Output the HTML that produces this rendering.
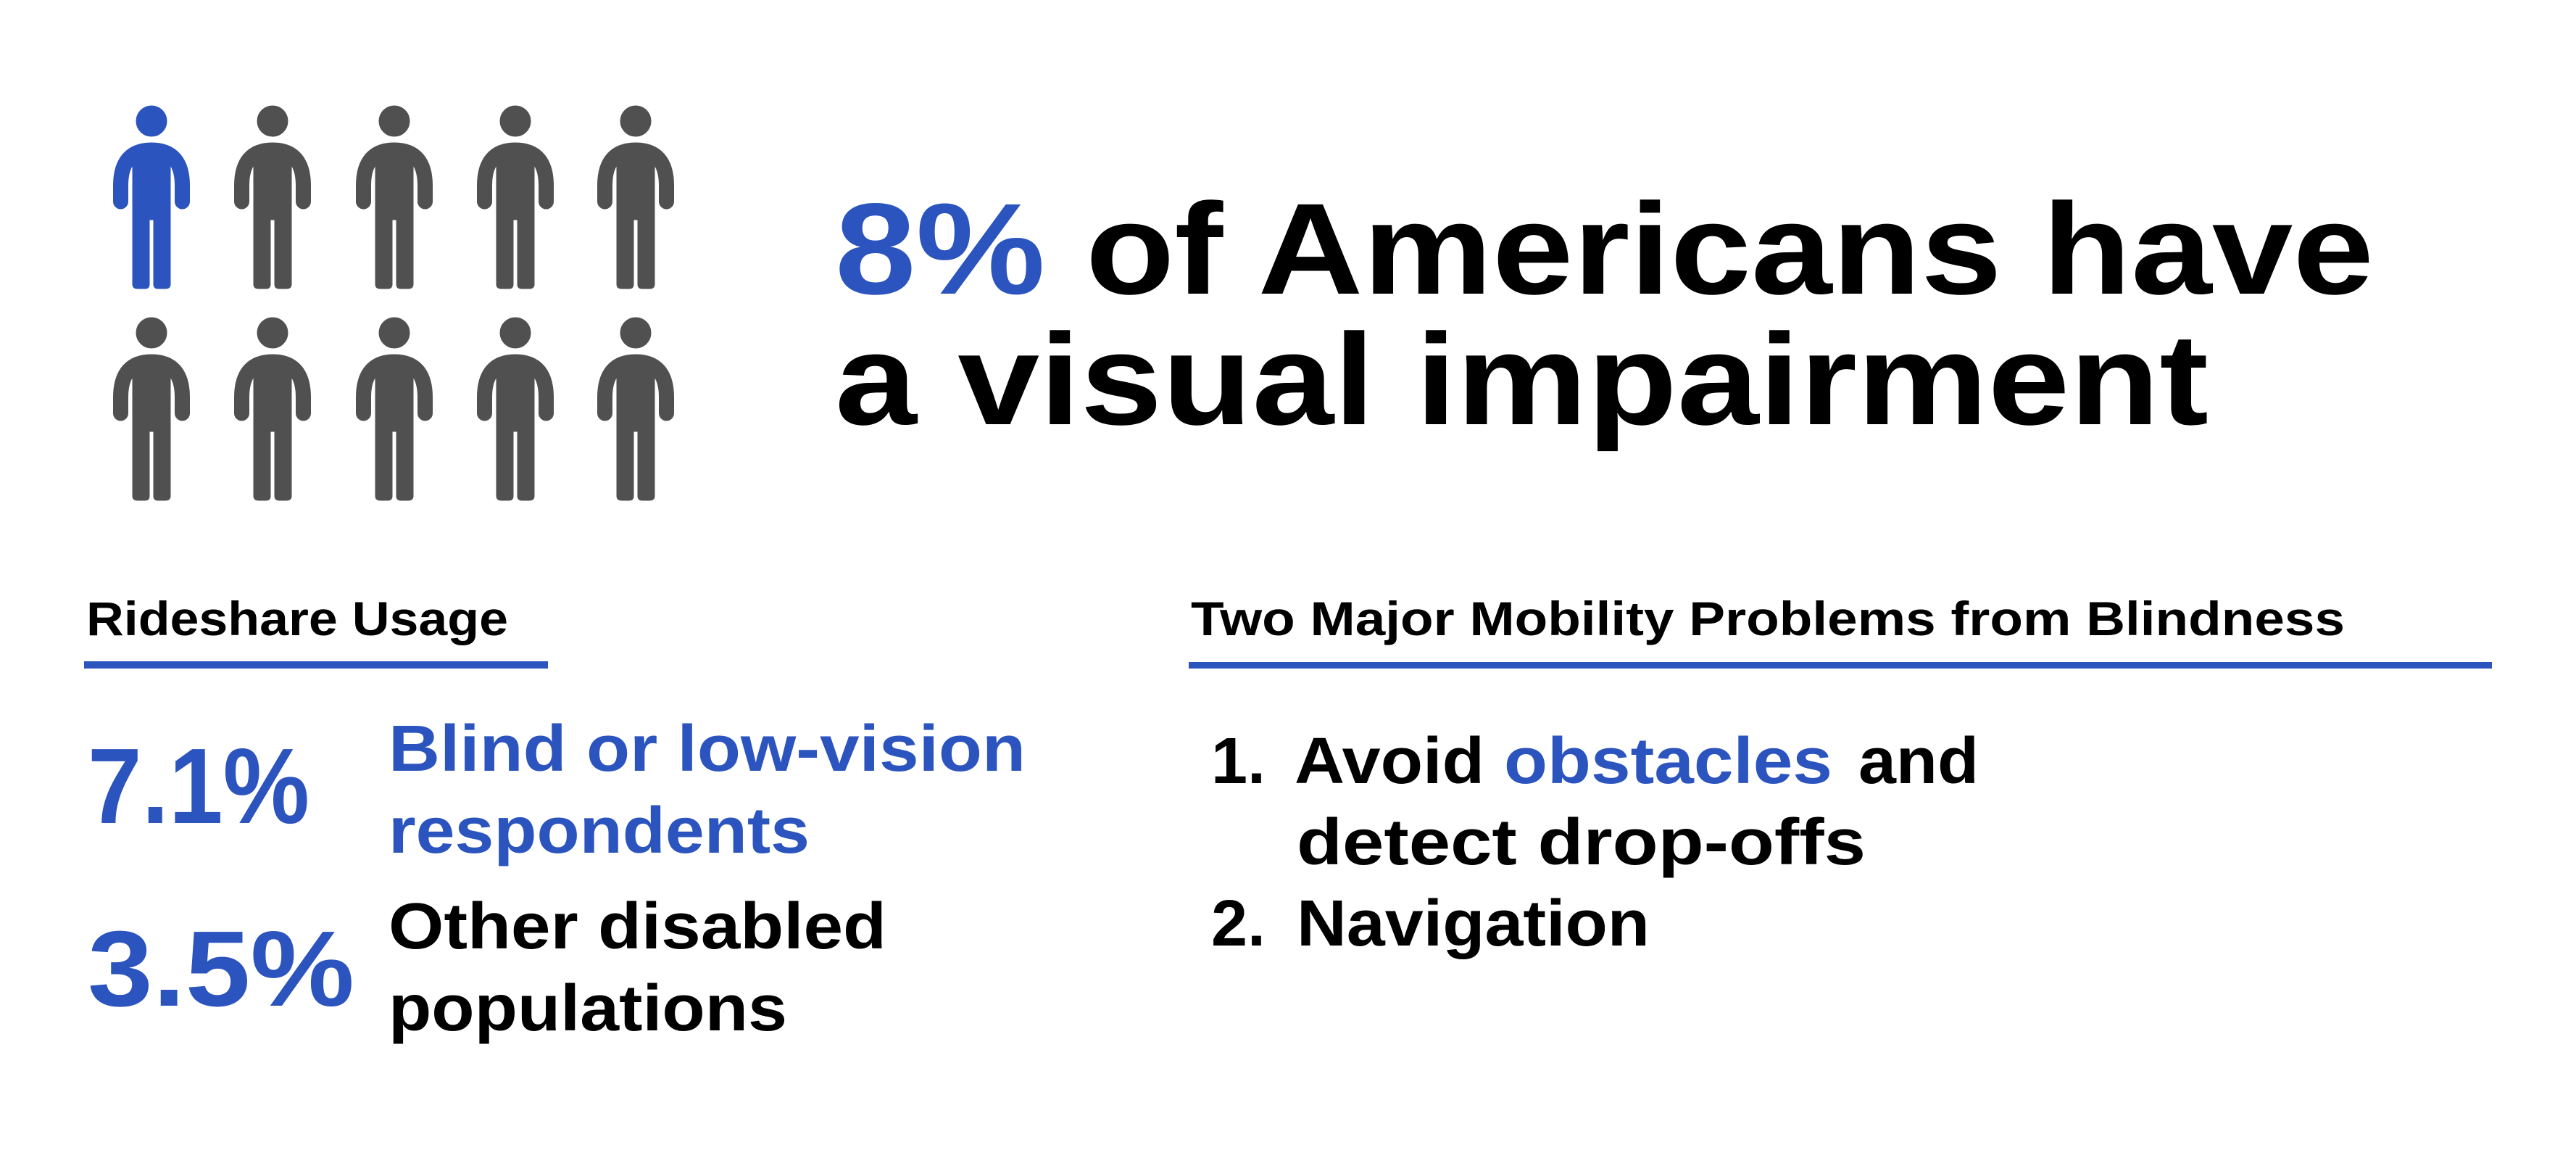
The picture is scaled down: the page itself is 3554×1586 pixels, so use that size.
<!DOCTYPE html>
<html>
<head>
<meta charset="utf-8">
<style>
  html,body{margin:0;padding:0;background:#fff;}
  svg{display:block;}
  text{font-family:"Liberation Sans",sans-serif;font-weight:bold;}
</style>
</head>
<body>
<svg id="root" width="3554" height="1586" viewBox="0 0 3554 1586">
  <defs>
    <g id="person">
      <circle cx="0" cy="21" r="21"/>
      <path d="M -42.5,132 L -42.5,110 Q -42.5,61 0,61 Q 42.5,61 42.5,110 L 42.5,132" fill="none" stroke-width="21" stroke-linecap="round"/>
      <path d="M -26,60 Q 0,50 26,60 L 26,246 Q 26,252 19,252 L 9,252 Q 3,252 3,246 L 3,157 L -3,157 L -3,246 Q -3,252 -9,252 L -19,252 Q -26,252 -26,246 Z"/>
    </g>
  </defs>
  <g id="people"></g>

  <text x="1152" y="405" font-size="179" textLength="2123" lengthAdjust="spacingAndGlyphs"><tspan fill="#2c54be">8%</tspan><tspan fill="#000"> of Americans have</tspan></text>
  <text x="1152" y="585" font-size="179" fill="#000" textLength="1895" lengthAdjust="spacingAndGlyphs">a visual impairment</text>

  <text x="119" y="876" font-size="66" fill="#000" textLength="582" lengthAdjust="spacingAndGlyphs">Rideshare Usage</text>
  <rect x="116" y="912" width="640" height="10" fill="#2c54be"/>

  <text x="121" y="1135" font-size="148" fill="#2c54be" textLength="306" lengthAdjust="spacingAndGlyphs">7.1%</text>
  <text x="536" y="1063" font-size="90" fill="#2c54be" textLength="879" lengthAdjust="spacingAndGlyphs">Blind or low-vision</text>
  <text x="536" y="1176" font-size="90" fill="#2c54be" textLength="581" lengthAdjust="spacingAndGlyphs">respondents</text>

  <text x="121" y="1387" font-size="148" fill="#2c54be" textLength="368" lengthAdjust="spacingAndGlyphs">3.5%</text>
  <text x="536" y="1308" font-size="90" fill="#000" textLength="687" lengthAdjust="spacingAndGlyphs">Other disabled</text>
  <text x="536" y="1421" font-size="90" fill="#000" textLength="550" lengthAdjust="spacingAndGlyphs">populations</text>

  <text x="1643" y="876" font-size="66" fill="#000" textLength="1592" lengthAdjust="spacingAndGlyphs">Two Major Mobility Problems from Blindness</text>
  <rect x="1640" y="913" width="1798" height="9" fill="#2c54be"/>

  <text x="1671" y="1080" font-size="90" fill="#000">1.</text>
  <text x="1786" y="1080" font-size="90" fill="#000" textLength="262" lengthAdjust="spacingAndGlyphs">Avoid</text>
  <text x="2075" y="1080" font-size="90" fill="#2c54be" textLength="453" lengthAdjust="spacingAndGlyphs">obstacles</text>
  <text x="2564" y="1080" font-size="90" fill="#000" textLength="166" lengthAdjust="spacingAndGlyphs">and</text>
  <text x="1789" y="1192" font-size="90" fill="#000" textLength="785" lengthAdjust="spacingAndGlyphs">detect drop-offs</text>
  <text x="1671" y="1304" font-size="90" fill="#000">2.</text>
  <text x="1789" y="1304" font-size="90" fill="#000" textLength="487" lengthAdjust="spacingAndGlyphs">Navigation</text>
</svg>
<script>
  const highlighted = [1,0,0,0,0, 0,0,0,0,0];
  const colX = [209, 376, 544, 711, 877];
  const rowY = [146, 438];
  const g = document.getElementById('people');
  const NS = 'http://www.w3.org/2000/svg';
  highlighted.forEach(function(h, i){
    const u = document.createElementNS(NS, 'use');
    u.setAttribute('href', '#person');
    const c = h ? '#2c54be' : '#505050';
    u.setAttribute('fill', c);
    u.setAttribute('stroke', c);
    u.setAttribute('transform', 'translate(' + colX[i % 5] + ',' + rowY[Math.floor(i / 5)] + ')');
    
    
    g.appendChild(u);
  });
</script>
</body>
</html>
